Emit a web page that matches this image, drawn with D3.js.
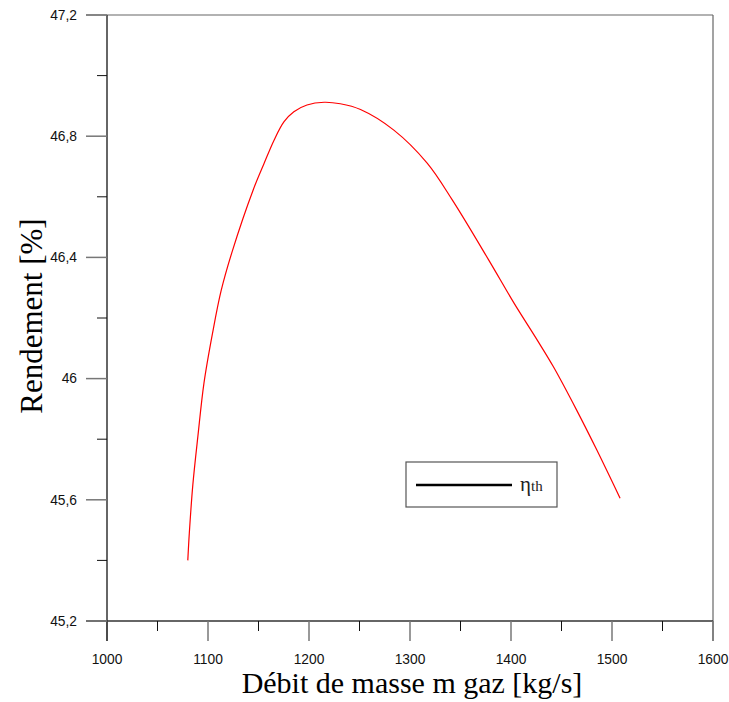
<!DOCTYPE html>
<html>
<head>
<meta charset="utf-8">
<script src="https://cdn.jsdelivr.net/npm/d3@7"></script>
<style>
  body { margin: 0; background: #fff; }
</style>
</head>
<body>
<div id="chart"></div>
<script>
// data
var debit = [1080, 1081.5, 1085, 1090, 1096, 1104.5, 1113, 1124, 1145, 1155.5, 1165.4, 1175.3, 1185, 1198, 1215, 1231, 1251, 1284, 1317, 1342, 1378, 1403, 1426, 1442, 1465, 1485, 1508];
var rendement = [45.40, 45.49, 45.65, 45.81, 45.985, 46.15, 46.29, 46.42, 46.625, 46.71, 46.787, 46.848, 46.881, 46.903, 46.912, 46.907, 46.888, 46.82, 46.711, 46.589, 46.391, 46.249, 46.127, 46.039, 45.896, 45.764, 45.605];
var xTicks = [1000, 1100, 1200, 1300, 1400, 1500, 1600];
var yTicks = [45.2, 45.6, 46, 46.4, 46.8, 47.2];
var xMinor = [1050, 1150, 1250, 1350, 1450, 1550];
var yMinor = [45.4, 45.8, 46.2, 46.6, 47.0];

var margin = {top: 15, right: 16, bottom: 81, left: 107},
    width = 729 - margin.left - margin.right,
    height = 702 - margin.top - margin.bottom;

var svg = d3.select("#chart")
    .append("svg")
    .attr("width", 729)
    .attr("height", 702)
    .append("g")
    .attr("transform", "translate(" + margin.left + "," + margin.top + ")");

var x = d3.scaleLinear().domain([1000, 1600]).range([0, width]);
var y = d3.scaleLinear().domain([45.2, 47.2]).range([height, 0]);

var fmt = function(d) { return d3.format("~g")(d).replace(".", ","); };

// top and right border
svg.append("line")
    .attr("x1", -21).attr("x2", width)
    .attr("y1", 0).attr("y2", 0)
    .attr("stroke", "#666").attr("stroke-width", 1.2);
svg.append("line")
    .attr("x1", width).attr("x2", width)
    .attr("y1", 0).attr("y2", height + 20)
    .attr("stroke", "#666").attr("stroke-width", 1.2);

// X axis
var gx = svg.append("g").attr("transform", "translate(0," + height + ")");
gx.append("line")
    .attr("x1", -21).attr("x2", width)
    .attr("stroke", "#333").attr("stroke-width", 1.5);
gx.selectAll(".major").data(xTicks).enter().append("line")
    .attr("x1", function(d) { return x(d); }).attr("x2", function(d) { return x(d); })
    .attr("y1", 0).attr("y2", 20)
    .attr("stroke", "#777").attr("stroke-width", 1.5);
gx.selectAll(".minor").data(xMinor).enter().append("line")
    .attr("x1", function(d) { return x(d); }).attr("x2", function(d) { return x(d); })
    .attr("y1", 0).attr("y2", 10)
    .attr("stroke", "#111").attr("stroke-width", 1);
gx.selectAll(".lbl").data(xTicks).enter().append("text")
    .attr("x", function(d) { return x(d); })
    .attr("y", 43)
    .attr("text-anchor", "middle")
    .style("font-family", "Liberation Sans, Arial, sans-serif")
    .style("font-size", "13.8px")
    .attr("fill", "#111")
    .text(fmt);

// Y axis
var gy = svg.append("g");
gy.append("line")
    .attr("y1", 0).attr("y2", height + 20)
    .attr("stroke", "#333").attr("stroke-width", 1.5);
gy.selectAll(".major").data(yTicks).enter().append("line")
    .attr("y1", function(d) { return y(d); }).attr("y2", function(d) { return y(d); })
    .attr("x1", -21).attr("x2", 0)
    .attr("stroke", "#777").attr("stroke-width", 1.5);
gy.selectAll(".minor").data(yMinor).enter().append("line")
    .attr("y1", function(d) { return y(d); }).attr("y2", function(d) { return y(d); })
    .attr("x1", -10).attr("x2", 0)
    .attr("stroke", "#111").attr("stroke-width", 1);
gy.selectAll(".lbl").data(yTicks).enter().append("text")
    .attr("x", -30)
    .attr("y", function(d) { return y(d); })
    .attr("dy", "0.35em")
    .attr("text-anchor", "end")
    .style("font-family", "Liberation Sans, Arial, sans-serif")
    .style("font-size", "13.8px")
    .attr("fill", "#111")
    .text(fmt);

// axis titles
svg.append("text")
    .attr("x", width / 2 + 2)
    .attr("y", height + 72)
    .attr("text-anchor", "middle")
    .style("font-family", "Liberation Serif, Times New Roman, serif")
    .style("font-size", "30px")
    .text("Débit de masse m gaz [kg/s]");
svg.append("text")
    .attr("transform", "translate(-65," + (height / 2 - 2) + ")rotate(-90)")
    .attr("text-anchor", "middle")
    .style("font-family", "Liberation Serif, Times New Roman, serif")
    .style("font-size", "31px")
    .text("Rendement [%]");

// the curve
var pts = debit.map(function(d, i) { return [d, rendement[i]]; });
svg.append("path")
    .datum(pts)
    .attr("fill", "none")
    .attr("stroke", "#ff0000")
    .attr("stroke-width", 1.2)
    .attr("d", d3.line()
        .curve(d3.curveCatmullRom.alpha(0.5))
        .x(function(d) { return x(d[0]); })
        .y(function(d) { return y(d[1]); })
    );

// legend
var lg = svg.append("g").attr("transform", "translate(299,447)");
lg.append("rect")
    .attr("width", 151).attr("height", 45)
    .attr("fill", "#fff")
    .attr("stroke", "#555").attr("stroke-width", 1.2);
lg.append("line")
    .attr("x1", 10).attr("x2", 106)
    .attr("y1", 23).attr("y2", 23)
    .attr("stroke", "#000").attr("stroke-width", 2.5);
var lt = lg.append("text")
    .attr("x", 114).attr("y", 29)
    .style("font-family", "Liberation Serif, Times New Roman, serif")
    .attr("fill", "#222");
lt.append("tspan").style("font-size", "21px").text("η");
lt.append("tspan").style("font-size", "15px").text("th");
</script>
</body>
</html>
